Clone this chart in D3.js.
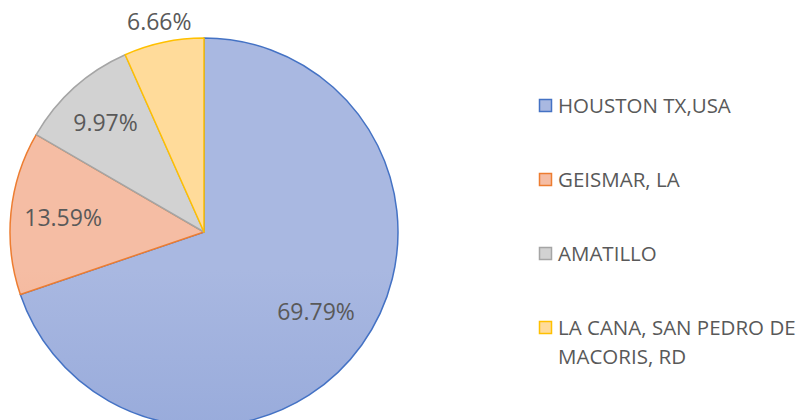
<!DOCTYPE html>
<html>
<head>
<meta charset="utf-8">
<script src="https://cdn.jsdelivr.net/npm/d3@7"></script>
<style>
  body { margin: 0; background: #fff; }
  svg { display: block; }
</style>
</head>
<body>
<script>
// chart data
var categories = ["HOUSTON TX,USA", "GEISMAR, LA", "AMATILLO", "LA CANA, SAN PEDRO DE MACORIS, RD"];
var legendLines = [["HOUSTON TX,USA"], ["GEISMAR, LA"], ["AMATILLO"], ["LA CANA, SAN PEDRO DE", "MACORIS, RD"]];
var values = [69.79, 13.59, 9.97, 6.66];
var labels = ["69.79%", "13.59%", "9.97%", "6.66%"];

var W = 804, H = 420;
var cx = 204, cy = 232, R = 194;

var strokes = ["#4472c4", "#ed7d31", "#a5a5a5", "#ffc000"];
var topCols = ["#a9b8e1", "#f5bda4", "#d2d2d2", "#ffdb9a"];
var botCols = ["#8199d3", "#f29a70", "#b6b6b6", "#ffcf78"];
var labelR = [0.71, 0.73, 0.76, 1.11];

var svg = d3.select("body").append("svg")
  .attr("width", W)
  .attr("height", H);

var defs = svg.append("defs");
categories.forEach(function(c, i) {
  var g = defs.append("linearGradient")
    .attr("id", "grad" + i)
    .attr("gradientUnits", "userSpaceOnUse")
    .attr("x1", 0).attr("y1", cy - R)
    .attr("x2", 0).attr("y2", cy + R);
  g.append("stop").attr("offset", "0%").attr("stop-color", topCols[i]);
  g.append("stop").attr("offset", "100%").attr("stop-color", botCols[i]);
});

var pie = d3.pie().sort(null).value(function(d) { return d; });
var arcs = pie(values);
var arc = d3.arc().innerRadius(0).outerRadius(R);

var g = svg.append("g").attr("transform", "translate(" + cx + "," + cy + ")");

g.selectAll("path.slice")
  .data(arcs)
  .enter()
  .append("path")
  .attr("class", "slice")
  .attr("d", arc)
  .attr("fill", function(d, i) { return "url(#grad" + i + ")"; })
  .attr("stroke", function(d, i) { return strokes[i]; })
  .attr("stroke-width", 1.5)
  .attr("stroke-linejoin", "round");

g.selectAll("text.lbl")
  .data(arcs)
  .enter()
  .append("text")
  .attr("class", "lbl")
  .attr("transform", function(d, i) {
    var a = (d.startAngle + d.endAngle) / 2;
    var r = R * labelR[i];
    return "translate(" + (Math.sin(a) * r) + "," + (-Math.cos(a) * r) + ")";
  })
  .attr("text-anchor", "middle")
  .attr("dy", "0.36em")
  .style("font-family", "'Open Sans', sans-serif")
  .style("font-size", "23px")
  .style("fill", "#595959")
  .text(function(d, i) { return labels[i]; });

// legend
var legendY = [106, 180, 254, 328];
var leg = svg.append("g");
legendLines.forEach(function(lines, i) {
  var row = leg.append("g").attr("transform", "translate(539," + legendY[i] + ")");
  row.append("rect")
    .attr("x", 0.5).attr("y", -6.5)
    .attr("width", 12).attr("height", 12)
    .attr("fill", "url(#grad" + i + ")")
    .attr("stroke", strokes[i])
    .attr("stroke-width", 1.5);
  lines.forEach(function(t, j) {
    row.append("text")
      .attr("x", 19)
      .attr("y", j * 29)
      .attr("dy", "0.36em")
      .style("font-family", "'Open Sans', sans-serif")
      .style("font-size", "20.5px")
      .style("fill", "#595959")
      .text(t);
  });
});
</script>
</body>
</html>
